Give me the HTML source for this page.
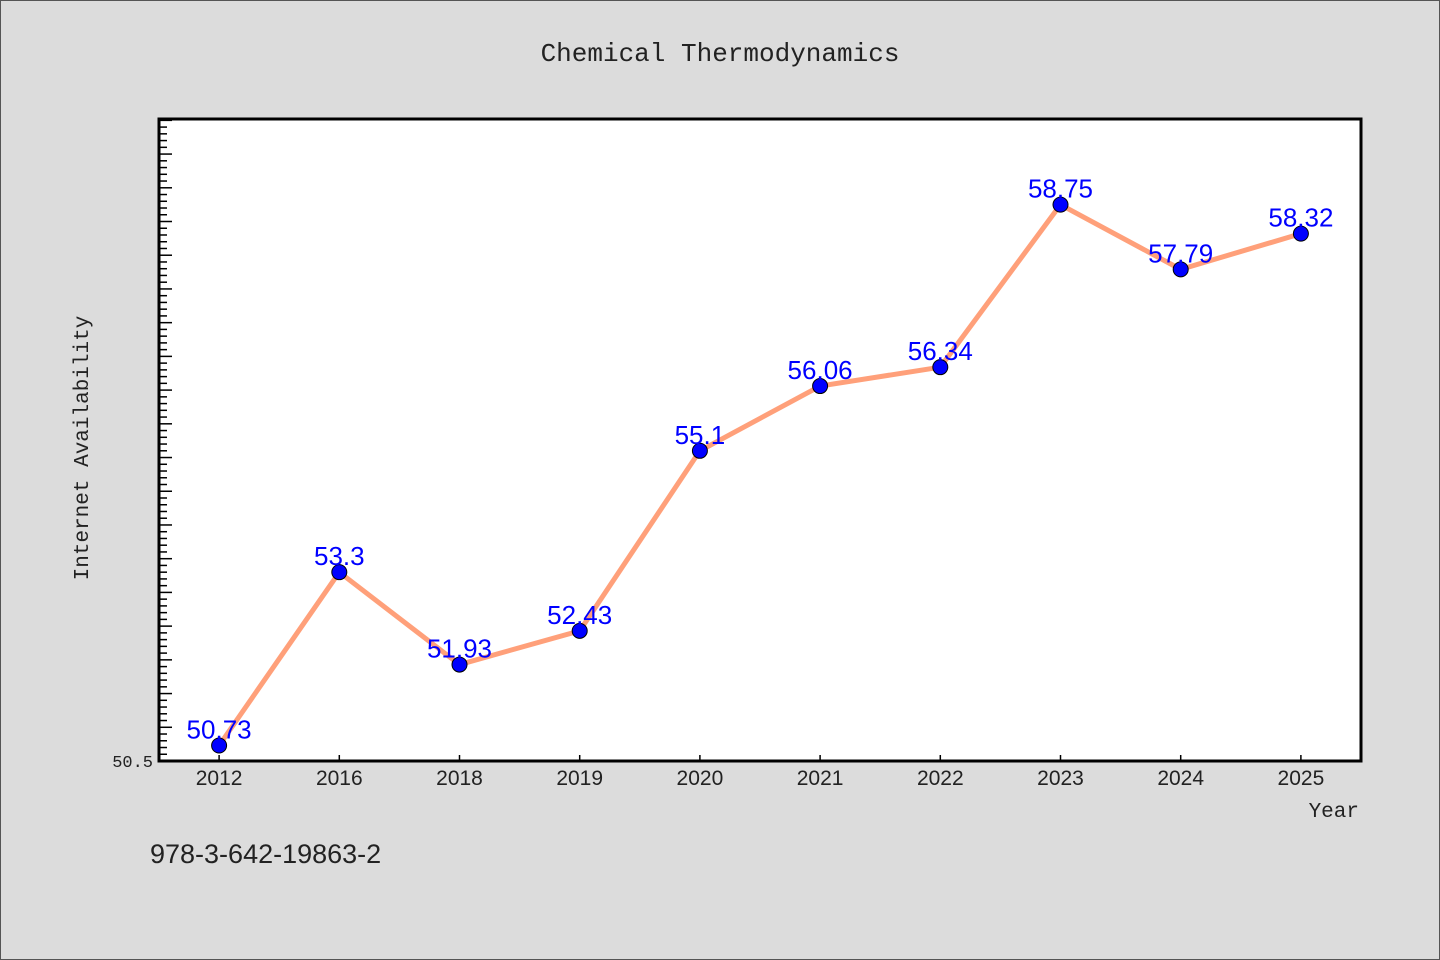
<!DOCTYPE html>
<html><head><meta charset="utf-8"><style>
body{margin:0;background:#dcdcdc;}
svg{display:block;font-family:"Liberation Mono","DejaVu Sans Mono",monospace;}
</style></head><body>
<svg width="1440" height="960" id="chart">
<rect x="0.5" y="0.5" width="1439" height="959" fill="#dcdcdc" stroke="#555"/>
<text x="720" y="61" text-anchor="middle" font-size="26" fill="#222">Chemical Thermodynamics</text>
<rect x="159" y="119" width="1202" height="642" fill="#fff"/>
<g id="yticks"></g>
<g id="xticks"></g>
<g id="series"></g>
<rect x="159" y="119" width="1202" height="642" fill="none" stroke="#000" stroke-width="3"/>
<text x="88" y="448" text-anchor="middle" font-size="21" fill="#222" transform="rotate(-90 88 448)">Internet Availability</text>
<text x="1359" y="817" text-anchor="end" font-size="21" fill="#222">Year</text>
<text x="150" y="863" font-family="Liberation Sans, sans-serif" font-size="27" fill="#222">978-3-642-19863-2</text>
</svg>
<script>
const categories=["2012","2016","2018","2019","2020","2021","2022","2023","2024","2025"];
const values=[50.73,53.3,51.93,52.43,55.1,56.06,56.34,58.75,57.79,58.32];
const labels=["50.73","53.3","51.93","52.43","55.1","56.06","56.34","58.75","57.79","58.32"];
const yMin=50.5,yMax=60.02;
const L=159,R=1361,T=119,B=761;
const NS="http://www.w3.org/2000/svg";
const band=(R-L)/categories.length;
function x(i){return L+band*(i+0.5);}
function y(v){return B-(v-yMin)/(yMax-yMin)*(B-T);}
function mk(tag,attrs,parent){const e=document.createElementNS(NS,tag);for(const k in attrs)e.setAttribute(k,attrs[k]);parent.appendChild(e);return e;}
const yt=document.getElementById('yticks');
for(let k=0;k<=95;k++){const v=yMin+k*0.1;if(v>yMax)break;const major=k%5===0;const yy=y(v);
const t=mk('line',{x1:L,x2:L+(major?13:8),y1:yy,y2:yy,stroke:'#000','stroke-width':1.5},yt);

}
const yl=mk('text',{x:153,y:B+6,'text-anchor':'end','font-size':17,fill:'#222'},yt);
yl.textContent="50.5";


const xt=document.getElementById('xticks');
categories.forEach((c,i)=>{
const t=mk('line',{x1:x(i),x2:x(i),y1:B,y2:B-6,stroke:'#000','stroke-width':1.5},xt);


const l=mk('text',{x:x(i),y:B+24,'text-anchor':'middle','font-size':21,fill:'#222','font-family':'Liberation Sans, sans-serif'},xt);
l.textContent=c;

});
const s=document.getElementById('series');
const line=mk('polyline',{points:values.map((v,i)=>x(i)+','+y(v)).join(' '),fill:'none',stroke:'#ffa07a','stroke-width':5,'stroke-linejoin':'round'},s);


values.forEach((v,i)=>{
const c=mk('circle',{cx:x(i),cy:y(v),r:7.5,fill:'#0000ff',stroke:'#000','stroke-width':1},s);


const l=mk('text',{x:x(i),y:y(v)-7,'text-anchor':'middle','font-size':26,fill:'#0000ff','font-family':'Liberation Sans, sans-serif'},s);
l.textContent=labels[i];

});
</script>
</body></html>
